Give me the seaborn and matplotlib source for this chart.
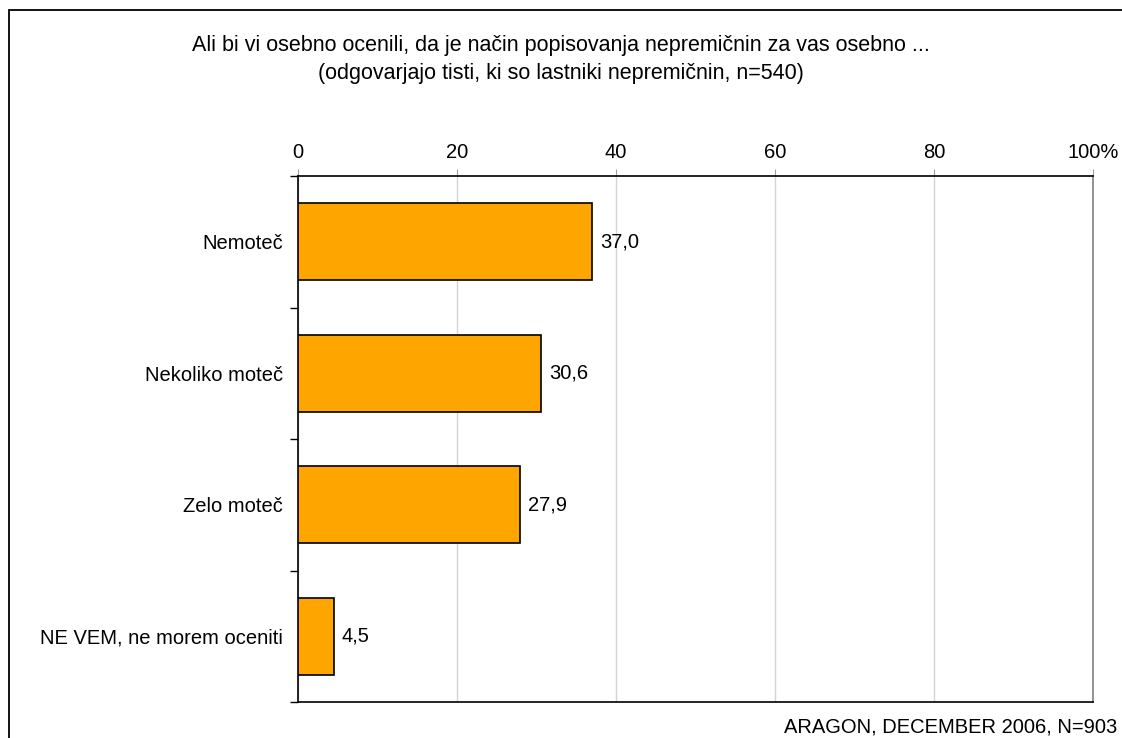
import pandas as pd
import matplotlib.pyplot as plt
import matplotlib.patches as patches
import seaborn as sns

# podatki
kategorije = ['Nemoteč', 'Nekoliko moteč', 'Zelo moteč', 'NE VEM, ne morem oceniti']
odstotki = [37.0, 30.6, 27.9, 4.5]
x_ticki = [0, 20, 40, 60, 80, 100]
x_oznake = ['0', '20', '40', '60', '80', '100%']

df = pd.DataFrame({'kategorija': kategorije, 'odstotek': odstotki})

sns.set_style("white")
plt.rcParams['font.family'] = ['Liberation Sans', 'DejaVu Sans']
plt.rcParams['text.color'] = 'black'
plt.rcParams['xtick.color'] = 'black'
plt.rcParams['ytick.color'] = 'black'
plt.rcParams['xtick.labelcolor'] = 'black'
plt.rcParams['ytick.labelcolor'] = 'black'

FS = 14.5
W, H = 1122, 738
fig = plt.figure(figsize=(W / 100, H / 100), dpi=100)
ax = fig.add_axes([298 / W, 1 - 702 / H, (1093 - 298) / W, (702 - 176) / H])

sns.barplot(data=df, x='odstotek', y='kategorija', orient='h', color='#FFA500',
            saturation=1, edgecolor='black', linewidth=1.2, width=0.585, ax=ax, zorder=3)

ax.set_xlim(0, 100)
ax.set_ylim(3.5, -0.5)
ax.set_xlabel('')
ax.set_ylabel('')

ax.xaxis.tick_top()
ax.set_xticks(x_ticki)
ax.set_xticklabels(x_oznake, fontsize=FS)
ax.tick_params(axis='x', top=True, direction='out', length=5, color='#a0a0a0',
               labelcolor='black', pad=5)
ax.grid(axis='x', color='#d4d4d4', linewidth=1, zorder=0)

ax.set_yticks(range(len(kategorije)))
ax.set_yticklabels(kategorije, fontsize=FS)
ax.tick_params(axis='y', which='major', left=False, length=0, pad=11)
ax.set_yticks([-0.5, 0.5, 1.5, 2.5, 3.5], minor=True)
ax.tick_params(axis='y', which='minor', left=True, direction='out', length=6,
               color='black', width=1)

for s in ['top', 'left', 'bottom']:
    ax.spines[s].set_color('black')
    ax.spines[s].set_linewidth(1.2)
ax.spines['right'].set_color('#808080')
ax.spines['right'].set_linewidth(1.2)

for i, v in enumerate(odstotki):
    ax.text(v + 1.0, i, f'{v:.1f}'.replace('.', ','), va='center', ha='left', fontsize=FS)

fig.text(0.5, 1 - 45 / H, 'Ali bi vi osebno ocenili, da je način popisovanja nepremičnin za vas osebno ...',
         ha='center', va='center', fontsize=15.5)
fig.text(0.5, 1 - 73 / H, '(odgovarjajo tisti, ki so lastniki nepremičnin, n=540)',
         ha='center', va='center', fontsize=15.5)
fig.text(1117 / W, 1 - 727 / H, 'ARAGON, DECEMBER 2006, N=903', ha='right', va='center', fontsize=FS)

okvir = patches.Rectangle((8.5 / W, -0.05), 1.1, 1 + 0.05 - 10.5 / H, transform=fig.transFigure,
                          fill=False, edgecolor='black', linewidth=1.3)
fig.patches.append(okvir)

fig.savefig('out.png', dpi=100)
